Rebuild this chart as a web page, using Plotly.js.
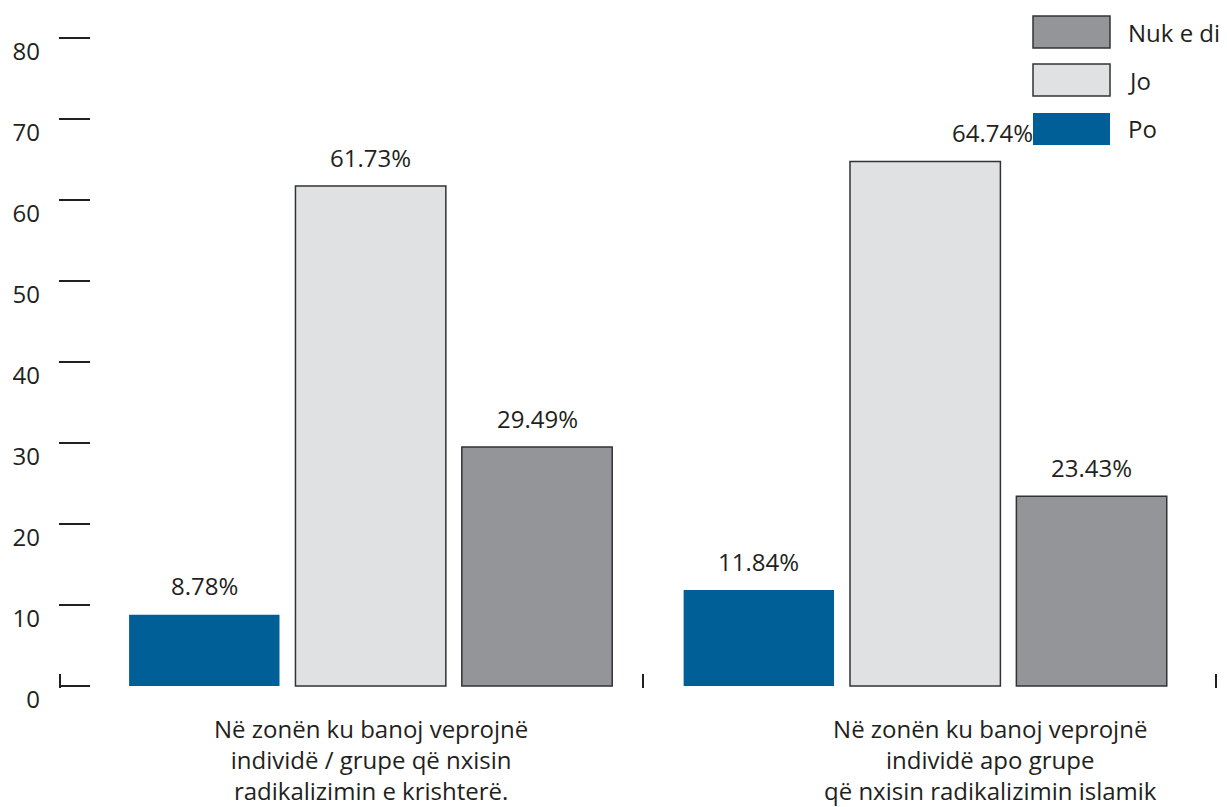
<!DOCTYPE html>
<html>
<head>
<meta charset="utf-8">
<script src="https://cdn.plot.ly/plotly-3.0.1.min.js"></script>
<style>
  html, body { margin: 0; padding: 0; background: #fff; }
  #chart { width: 1227px; height: 807px; }
</style>
</head>
<body>
<div id="chart"></div>
<script>
'use strict';

// donnees
var categories = [
  'Në zonën ku banoj veprojnë<br>individë / grupe që nxisin<br>radikalizimin e krishterë.',
  'Në zonën ku banoj veprojnë<br>individë apo grupe<br>që nxisin radikalizimin islamik'
];
var seriesNames = ['Po', 'Jo', 'Nuk e di'];
var poValues = [8.78, 11.84];
var joValues = [61.73, 64.74];
var nukValues = [29.49, 23.43];
var yTicks = [0, 10, 20, 30, 40, 50, 60, 70, 80];

// styles
var seriesColors = ['#005f96', '#e0e1e3', '#939598'];
var seriesLines = [0, 1.5, 1.5];
var textColor = '#231f20';
var fontFamily = 'Open Sans, sans-serif';

// geometrie en pixels
var W = 1227, H = 807;
var mL = 59, mR = 9, mT = 36, mB = 119;
var plotW = W - mL - mR, plotH = H - mT - mB;
var bargap = 0.10;
var bargroupgap = 0.096;
var xRange = [-0.562, 1.528];
var yRange = [-0.25, 80.25];
var boundaryTicks = [-0.56, 0.491, 1.524];
var labelShift = [0, 65];
// decalage horizontal des etiquettes de valeur (une seule est deplacee)
var valueShift = [[0, 0], [0, 67], [0, 0]];

function px2paperX(px) { return (px - mL) / plotW; }
function px2paperY(py) { return (H - mB - py) / plotH; }

var allValues = [poValues, joValues, nukValues];
var xIdx = categories.map(function (c, i) { return i; });

var traces = allValues.map(function (vals, i) {
  return {
    type: 'bar',
    name: seriesNames[i],
    x: xIdx,
    y: vals,
    marker: {
      color: seriesColors[i],
      line: { color: '#333333', width: seriesLines[i] }
    },
    hoverinfo: 'skip'
  };
});

var annotations = [];

// etiquettes des valeurs au-dessus des barres
var slotW = (1 - bargap) / seriesNames.length;
allValues.forEach(function (vals, i) {
  vals.forEach(function (v, j) {
    annotations.push({
      x: j + (i - 1) * slotW,
      y: v,
      xref: 'x', yref: 'y',
      text: v.toFixed(2) + '%',
      showarrow: false,
      yanchor: 'middle',
      yshift: 29,
      xshift: valueShift[i][j],
      font: { family: fontFamily, size: 24, color: textColor }
    });
  });
});

// libelles des categories sous l'axe
categories.forEach(function (c, j) {
  annotations.push({
    x: j, y: 0,
    xref: 'x', yref: 'y',
    text: c,
    showarrow: false,
    yanchor: 'top',
    yshift: -24,
    xshift: labelShift[j],
    align: 'center',
    font: { family: fontFamily, size: 24, color: textColor }
  });
});

// legende faite a la main (grands carres)
var legendOrder = [2, 1, 0];
var legendTop = [16, 64, 113];
var shapes = [];
legendOrder.forEach(function (s, k) {
  shapes.push({
    type: 'rect',
    xref: 'paper', yref: 'paper',
    x0: px2paperX(1033), x1: px2paperX(1110),
    y0: px2paperY(legendTop[k] + 32), y1: px2paperY(legendTop[k]),
    fillcolor: seriesColors[s],
    line: { color: '#333333', width: seriesLines[s] },
    layer: 'below'
  });
  annotations.push({
    xref: 'paper', yref: 'paper',
    x: px2paperX(1126), y: px2paperY(legendTop[k] + 16),
    xanchor: 'left', yanchor: 'middle',
    text: seriesNames[s],
    showarrow: false,
    font: { family: fontFamily, size: 24, color: textColor }
  });
});

var layout = {
  width: W,
  height: H,
  margin: { l: mL, r: mR, t: mT, b: mB, pad: 0 },
  paper_bgcolor: '#ffffff',
  plot_bgcolor: 'rgba(0,0,0,0)',
  barmode: 'group',
  bargap: bargap,
  bargroupgap: bargroupgap,
  showlegend: false,
  font: { family: fontFamily, size: 24, color: textColor },
  xaxis: {
    type: 'linear',
    range: xRange,
    tickmode: 'array',
    tickvals: boundaryTicks,
    ticks: 'inside',
    ticklen: 14,
    tickwidth: 1.5,
    tickcolor: '#231f20',
    showticklabels: false,
    showgrid: false,
    zeroline: false,
    showline: false,
    fixedrange: true
  },
  yaxis: {
    range: yRange,
    tickmode: 'array',
    tickvals: yTicks,
    ticktext: yTicks.map(String),
    ticks: 'inside',
    ticklen: 31,
    tickwidth: 1.5,
    tickcolor: '#231f20',
    ticklabelshift: 14,
    ticklabelstandoff: 18,
    tickfont: { family: fontFamily, size: 24, color: textColor },
    showgrid: false,
    zeroline: false,
    showline: false,
    fixedrange: true
  },
  annotations: annotations,
  shapes: shapes
};

Plotly.newPlot('chart', traces, layout, { displayModeBar: false, staticPlot: true });
</script>
</body>
</html>
